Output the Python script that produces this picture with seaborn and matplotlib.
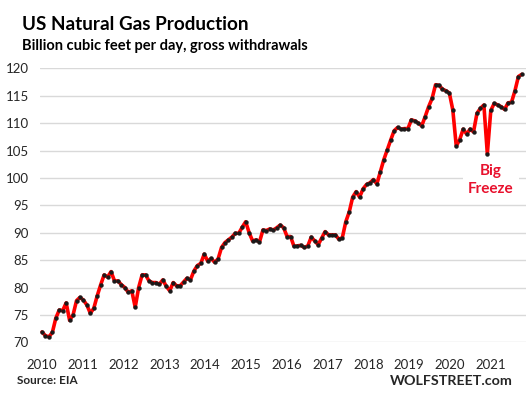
import numpy as np
import pandas as pd
import matplotlib
matplotlib.use('Agg')
import matplotlib.pyplot as plt
import seaborn as sns

# monthly gross withdrawals, billion cubic feet per day
seg_a = [71.9, 71.2, 71.0, 71.8, 74.4, 75.9, 75.8, 77.2, 74.0, 75.0, 77.6,
         78.2, 77.7, 76.8, 75.3, 76.2, 78.5, 80.5, 82.3, 81.9, 82.9, 81.2,
         81.2, 80.5, 80.0, 79.1, 79.4, 76.4, 80.0, 82.3, 82.3]
seg_b = [81.2, 80.9, 80.9, 80.6, 81.4, 80.2, 79.4, 80.9, 80.3, 80.3, 81.0,
         81.7, 81.4, 83.0, 84.0, 84.4]
seg_c = [86.1, 84.8, 85.3, 84.6, 85.2, 87.3, 88.2, 88.7, 89.2, 89.9, 89.9,
         91.0, 92.0, 90.0, 88.5, 88.7, 88.3, 90.5, 90.4, 90.7, 90.5, 90.9,
         91.4, 90.9, 89.3, 89.3, 87.5, 87.6, 87.7, 87.3, 87.6, 89.2, 88.5,
         87.8, 89.0, 90.2, 89.6, 89.6, 89.6, 88.8, 89.1, 92.0, 93.8, 96.5,
         97.5, 96.5, 98.0, 98.8, 99.1, 99.7, 98.9]
seg_d = [101.1, 103.3, 105.1, 106.9, 108.6, 109.2, 108.9, 109.0, 109.0,
         110.6, 110.4, 110.0, 109.5, 111.2, 113.0, 114.5, 117.0, 116.9, 116.2]
seg_e = [115.9, 115.5, 112.4, 105.8, 107.0, 108.9, 108.0, 108.9, 108.4,
         111.8, 112.7, 113.3, 104.4, 112.3, 113.6, 113.3, 113.0, 112.5,
         113.7, 113.8, 115.9, 118.5, 118.9]

years = [str(y) for y in range(2010, 2022)]
y_ticks = list(range(70, 121, 5))

values = seg_a + seg_b + seg_c + seg_d + seg_e
df = pd.DataFrame({'month': np.arange(len(values)), 'bcf': values})

sns.set_style('white')
plt.rcParams['font.family'] = ['Lato', 'DejaVu Sans']

W, H = 530, 397
fig = plt.figure(figsize=(W / 100, H / 100), dpi=100)
ax = fig.add_axes([40 / W, 1 - 342.3 / H, 486 / W, 274 / H])

sns.lineplot(data=df, x='month', y='bcf', ax=ax, color='#ff0000', lw=2.6,
             marker='o', markersize=2.8, markerfacecolor='#1a1a1a',
             markeredgecolor='#1a1a1a', markeredgewidth=0.3)

ax.set_xlim(-0.58, 140.2)
ax.set_ylim(70, 120)
ax.set_yticks(y_ticks)
ax.set_yticklabels([str(v) for v in y_ticks])
ax.set_xticks(np.linspace(0, 130, len(years)))
ax.set_xticklabels(years)
ax.grid(axis='y', color='#d9d9d9', lw=1)
ax.grid(axis='x', visible=False)
for s in ax.spines.values():
    s.set_visible(False)
ax.tick_params(axis='y', length=0, pad=8, labelsize=9.5, labelcolor='#262626')
ax.tick_params(axis='x', length=0, pad=12, labelsize=9.5, labelcolor='#262626')
ax.set_xlabel('')
ax.set_ylabel('')

fig.text(22 / W, 1 - 30 / H, 'US Natural Gas Production', fontsize=13.6,
         fontweight='bold', color='black', va='baseline')
fig.text(22 / W, 1 - 50 / H, 'Billion cubic feet per day, gross withdrawals',
         fontsize=10.5, fontweight='bold', color='black', va='baseline')
fig.text(491 / W, 1 - 180 / H, 'Big\nFreeze', fontsize=11, fontweight='bold',
         color='#e8112d', ha='center', va='center', linespacing=1.4,
         bbox=dict(facecolor='white', edgecolor='none', pad=4))
fig.text(17 / W, 1 - 381 / H, 'Source: EIA', fontsize=8.5, fontweight='bold',
         va='center')
fig.text(513 / W, 1 - 381 / H, 'WOLFSTREET.com', fontsize=10.3, fontweight='bold',
         ha='right', va='center')

fig.savefig('out.png', dpi=100)
